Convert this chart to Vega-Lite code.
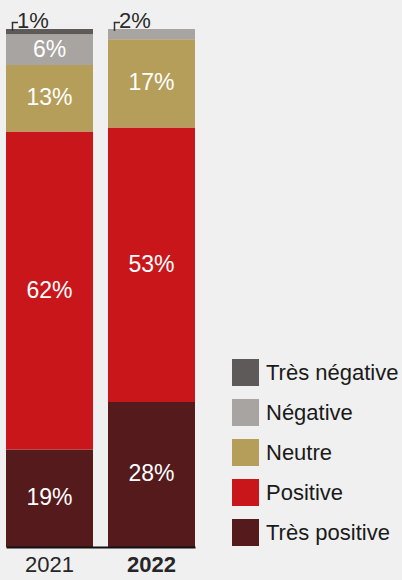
{
  "$schema": "https://vega.github.io/schema/vega-lite/v6.json",
  "width": 189,
  "height": 518,
  "autosize": {"type": "none"},
  "padding": {"left": 6, "top": 29, "right": 207, "bottom": 33},
  "background": "#f0f0f0",
  "config": {"view": {"stroke": null}, "font": "Liberation Sans"},
  "data": {
    "values": [
      {"year": "2021", "category": "Très positive", "value": 19, "rank": 1},
      {"year": "2021", "category": "Positive", "value": 62, "rank": 2},
      {"year": "2021", "category": "Neutre", "value": 13, "rank": 3},
      {"year": "2021", "category": "Négative", "value": 6, "rank": 4},
      {"year": "2021", "category": "Très négative", "value": 1, "rank": 5},
      {"year": "2022", "category": "Très positive", "value": 28, "rank": 1},
      {"year": "2022", "category": "Positive", "value": 53, "rank": 2},
      {"year": "2022", "category": "Neutre", "value": 17, "rank": 3},
      {"year": "2022", "category": "Négative", "value": 2, "rank": 4},
      {"year": "2022", "category": "Très négative", "value": 0, "rank": 5}
    ]
  },
  "transform": [
    {"stack": "value", "groupby": ["year"], "sort": [{"field": "rank", "order": "ascending"}], "offset": "normalize", "as": ["y0", "y1"]},
    {"calculate": "(datum.y0 + datum.y1) / 2", "as": "ymid"},
    {"calculate": "datum.value + '%'", "as": "label"}
  ],
  "encoding": {
    "x": {
      "field": "year",
      "type": "nominal",
      "scale": {"paddingInner": 0.147, "paddingOuter": 0},
      "axis": {
        "title": null,
        "labelAngle": 0,
        "ticks": false,
        "domainColor": "#111111",
        "domainWidth": 2,
        "zindex": 1,
        "labelFontSize": 22,
        "labelColor": "#262626",
        "labelPadding": 7,
        "labelFontWeight": {"condition": {"test": "datum.value == '2022'", "value": "bold"}, "value": "normal"}
      }
    }
  },
  "layer": [
    {
      "mark": {"type": "bar"},
      "encoding": {
        "y": {"field": "y0", "type": "quantitative", "scale": {"domain": [0, 1]}, "axis": null},
        "y2": {"field": "y1"},
        "color": {
          "field": "category",
          "type": "nominal",
          "scale": {
            "domain": ["Très négative", "Négative", "Neutre", "Positive", "Très positive"],
            "range": ["#5f5a5a", "#a8a4a1", "#b59e5a", "#c8161b", "#541a1c"]
          },
          "legend": {
            "orient": "none",
            "legendX": 226,
            "legendY": 330,
            "title": null,
            "padding": 0,
            "symbolType": "square",
            "symbolSize": 729,
            "symbolStrokeWidth": 0,
            "symbolOpacity": 1,
            "labelFontSize": 22,
            "labelColor": "#1a1a1a",
            "labelOffset": 7,
            "rowPadding": 13
          }
        }
      }
    },
    {
      "transform": [{"filter": "datum.value >= 5"}],
      "mark": {"type": "text", "color": "white", "fontSize": 23, "baseline": "middle"},
      "encoding": {
        "y": {"field": "ymid", "type": "quantitative"},
        "text": {"field": "label"}
      }
    },
    {
      "transform": [{"filter": "datum.value > 0 && datum.value < 5"}],
      "mark": {"type": "text", "color": "#2a2a2a", "fontSize": 22, "align": "left", "baseline": "alphabetic", "dx": 11, "dy": -1},
      "encoding": {
        "x": {"field": "year", "type": "nominal", "bandPosition": 0},
        "y": {"field": "y1", "type": "quantitative"},
        "text": {"field": "label"}
      }
    },
    {
      "transform": [{"filter": "datum.value > 0 && datum.value < 5"}],
      "mark": {"type": "rule", "color": "#333333", "strokeWidth": 1.5, "xOffset": 6.5, "yOffset": -6.5, "y2Offset": 2},
      "encoding": {
        "x": {"field": "year", "type": "nominal", "bandPosition": 0},
        "y": {"field": "y1", "type": "quantitative"},
        "y2": {"field": "y1"}
      }
    },
    {
      "transform": [{"filter": "datum.value > 0 && datum.value < 5"}],
      "mark": {"type": "rule", "color": "#333333", "strokeWidth": 1.5, "xOffset": 5.75, "x2Offset": 12, "yOffset": -6.5},
      "encoding": {
        "x": {"field": "year", "type": "nominal", "bandPosition": 0},
        "x2": {"field": "year", "bandPosition": 0},
        "y": {"field": "y1", "type": "quantitative"}
      }
    }
  ]
}
